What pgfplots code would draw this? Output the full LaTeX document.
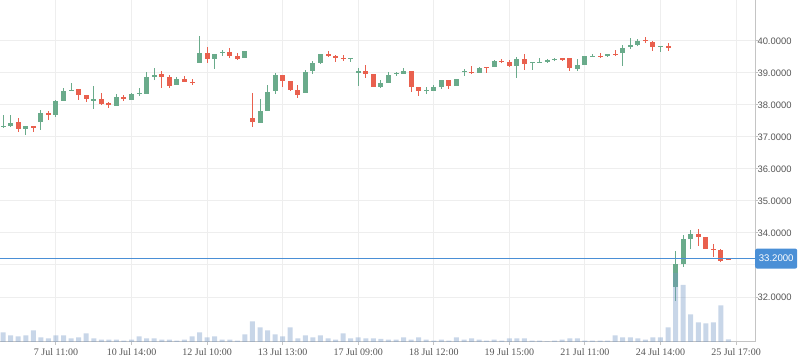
\documentclass[border=0pt]{standalone}
\usepackage{fontspec}
\setmainfont{Liberation Serif}
\newfontfamily\ysans{Liberation Sans}
\usepackage{pgfplots}
\pgfplotsset{compat=1.18}
\usepackage{pgfplotstable}
\definecolor{upc}{HTML}{6AAB8B}
\definecolor{dnc}{HTML}{E9604E}
\definecolor{volc}{RGB}{117,152,197}
\definecolor{gridc}{HTML}{EEEEEE}
\definecolor{axc}{HTML}{C4C4C4}
\definecolor{lastc}{HTML}{4A8FD6}
\definecolor{txtc}{HTML}{555555}

\pgfplotstableread{
i O H L C
0 37.32 37.69 37.29 37.35
1 37.34 37.69 37.32 37.44
3 37.26 37.34 37.06 37.34
5 37.48 37.84 37.22 37.75
7 37.70 38.16 37.64 38.13
8 38.14 38.53 38.14 38.44
9 38.45 38.70 38.45 38.47
12 38.14 38.59 37.88 38.19
15 37.97 38.34 37.97 38.25
17 38.16 38.39 38.16 38.34
18 38.36 38.53 38.29 38.39
19 38.355 39.03 38.355 38.875
20 38.89 39.16 38.78 38.94
23 38.64 38.875 38.64 38.81
26 39.32 40.16 39.32 39.63
28 39.45 39.59 39.14 39.59
29 39.65 39.72 39.54 39.67
32 39.48 39.69 39.48 39.69
34 37.45 38.19 37.45 37.81
35 37.82 38.63 37.82 38.41
36 38.44 39.00 38.35 38.94
40 38.39 39.09 38.39 39.03
41 39.07 39.39 38.98 39.32
42 39.32 39.59 39.29 39.59
46 39.46 39.48 39.35 39.48
47 39.01 39.16 38.60 39.06
50 38.57 38.78 38.54 38.69
51 38.70 39.03 38.70 38.94
52 38.98 39.04 38.91 39.00
53 38.98 39.16 38.98 39.06
56 38.45 38.56 38.34 38.47
57 38.45 38.62 38.45 38.56
58 38.56 38.78 38.50 38.78
60 38.59 38.81 38.59 38.81
61 39.02 39.12 38.92 39.05
63 39.00 39.19 39.00 39.16
65 39.18 39.41 39.18 39.38
68 39.23 39.51 38.85 39.45
70 39.33 39.35 39.10 39.35
71 39.33 39.48 39.33 39.35
72 39.35 39.44 39.32 39.42
73 39.43 39.48 39.36 39.45
76 39.14 39.43 39.06 39.26
77 39.26 39.52 39.26 39.52
78 39.52 39.59 39.52 39.54
80 39.53 39.59 39.50 39.59
82 39.62 39.88 39.23 39.78
83 39.81 40.09 39.75 39.88
84 39.88 40.07 39.83 40.01
87 39.82 39.84 39.67 39.84
89 32.32 33.44 31.89 33.03
90 33.03 33.93 32.95 33.81
91 33.80 34.09 33.49 33.97
}\upt

\pgfplotstableread{
i O H L C
2 37.47 37.58 37.17 37.26
4 37.34 37.34 37.17 37.29
6 37.75 37.81 37.53 37.69
10 38.50 38.50 38.16 38.32
11 38.31 38.31 38.10 38.19
13 38.19 38.39 38.00 38.04
14 38.07 38.10 37.92 37.99
16 38.25 38.31 38.13 38.19
21 38.98 39.06 38.54 38.89
22 38.875 38.94 38.54 38.60
24 38.81 38.91 38.73 38.73
25 38.73 38.81 38.64 38.70
27 39.63 39.82 39.32 39.45
30 39.66 39.78 39.48 39.53
31 39.53 39.61 39.42 39.45
33 37.59 38.375 37.32 37.48
37 38.94 38.94 38.57 38.76
38 38.75 38.75 38.44 38.47
39 38.47 38.63 38.22 38.32
43 39.60 39.69 39.51 39.54
44 39.54 39.57 39.35 39.48
45 39.47 39.56 39.39 39.45
48 39.06 39.25 38.85 38.98
49 38.97 38.97 38.57 38.57
54 39.06 39.06 38.42 38.57
55 38.56 38.56 38.29 38.45
59 38.78 38.78 38.51 38.60
62 39.04 39.22 38.97 39.01
64 39.19 39.19 39.00 39.17
66 39.39 39.45 39.31 39.35
67 39.34 39.41 39.20 39.23
69 39.45 39.59 39.10 39.28
74 39.47 39.47 39.39 39.42
75 39.48 39.48 39.07 39.15
79 39.54 39.61 39.47 39.51
81 39.58 39.73 39.53 39.56
85 40.02 40.13 39.93 40.00
86 39.97 40.00 39.69 39.81
88 39.84 39.93 39.70 39.78
92 33.97 34.13 33.60 33.89
93 33.88 33.88 33.51 33.51
94 33.50 33.67 33.26 33.48
95 33.47 33.50 33.08 33.14
96 33.19 33.19 33.17 33.17
}\dnt

\pgfplotstableread{
i v
0 9.7
1 6.7
2 5.7
3 6.7
4 11.7
5 4.7
6 3.7
7 6.7
8 6.7
9 3.7
10 4.7
11 8.7
12 3.7
13 2.3
14 2.3
15 2.3
16 1.3
17 2.3
18 5.7
19 3.7
20 3.7
21 2.3
22 2.3
23 1.3
24 2.3
25 5.7
26 9.7
27 4.7
28 5.7
29 2.3
30 2.3
31 1.3
32 7.7
33 20.7
34 14.7
35 11.7
36 7.7
37 5.7
38 14.7
39 3.7
40 6.7
41 4.7
42 6.7
43 3.7
44 2.3
45 8.7
46 3.7
47 4.7
48 3.7
49 3.7
50 3.0
51 2.3
52 2.3
53 4.7
54 2.3
55 4.7
56 2.3
57 1.3
58 2.3
59 1.3
60 4.7
61 2.3
62 3.7
63 2.3
64 1.3
65 2.3
66 1.3
67 3.7
68 3.7
69 3.7
70 1.3
71 1.3
72 0.5
73 1.3
74 2.3
75 3.7
76 3.7
77 1.3
78 1.3
79 1.3
80 1.3
81 6.7
82 4.7
83 4.7
84 3.7
85 2.3
86 4.7
87 4.7
88 14.7
89 69.0
90 57.0
91 27.5
92 19.5
93 18.5
94 19.5
95 36.5
96 2.5
}\volt

\pgfplotsset{
  candle/.style n args={2}{draw=none, mark=none, forget plot,
    error bars/.cd, y dir=plus, y explicit, error mark=none,
    error bar style={draw=#1, solid, line width=#2}},
}

\begin{document}
\begin{tikzpicture}[x=1pt,y=1pt]
\begin{axis}[
  at={(0pt,21pt)}, anchor=south west,
  scale only axis, width=755pt, height=342pt,
  xmin=-0.41, xmax=99.51, ymin=30.594, ymax=41.281,
  clip=false,
  axis x line*=bottom, axis y line*=right,
  axis line style={axc, line width=1pt},
  xtick={7,17,27,37,47,57,67,77,87,97},
  xticklabels={7 Jul 11:00,10 Jul 14:00,12 Jul 10:00,13 Jul 13:00,17 Jul 09:00,18 Jul 12:00,19 Jul 15:00,21 Jul 11:00,24 Jul 14:00,25 Jul 17:00},
  ytick={32,33,34,35,36,37,38,39,40},
  yticklabels={32.0000,{},34.0000,35.0000,36.0000,37.0000,38.0000,39.0000,40.0000},
  tick align=outside, major tick length=3pt,
  tick style={axc, line width=1pt},
  grid=major, major grid style={gridc, line width=1pt},
  xticklabel style={font=\fontsize{10}{12}\selectfont, text=txtc},
  yticklabel style={font=\ysans\fontsize{9.4}{11}\selectfont, text=txtc, anchor=west, xshift=-4pt},
]
% wicks
\addplot[candle={upc}{1pt}]
  table[x=i, y=L, y error plus expr=\thisrow{H}-\thisrow{L}] {\upt};
\addplot[candle={dnc}{1pt}]
  table[x=i, y=L, y error plus expr=\thisrow{H}-\thisrow{L}] {\dnt};
% bodies
\addplot[candle={upc}{5pt}]
  table[x=i, y=O, y error plus expr=\thisrow{C}-\thisrow{O}] {\upt};
\addplot[candle={dnc}{5pt}]
  table[x=i, y=C, y error plus expr=\thisrow{O}-\thisrow{C}] {\dnt};
% last price line
\addplot[lastc, line width=1pt, forget plot] coordinates {(-0.41,33.2) (99.51,33.2)};
\node[fill=lastc, text=white, rounded corners=2pt, anchor=west, inner sep=0pt,
      minimum width=42pt, minimum height=20pt,
      font=\ysans\fontsize{9.6}{11}\selectfont] at (axis cs:99.51,33.2) {33.2000};
\end{axis}
\begin{axis}[
  at={(0pt,21pt)}, anchor=south west,
  scale only axis, width=755pt, height=342pt,
  xmin=-0.41, xmax=99.51, ymin=0, ymax=342,
  hide axis,
]
\addplot[ybar, bar width=5pt, fill=volc, fill opacity=0.4, draw=none] table[x=i, y=v] {\volt};
\end{axis}
\pgfresetboundingbox
\path[use as bounding box] (0,0) rectangle (798,363);
\end{tikzpicture}
\end{document}
